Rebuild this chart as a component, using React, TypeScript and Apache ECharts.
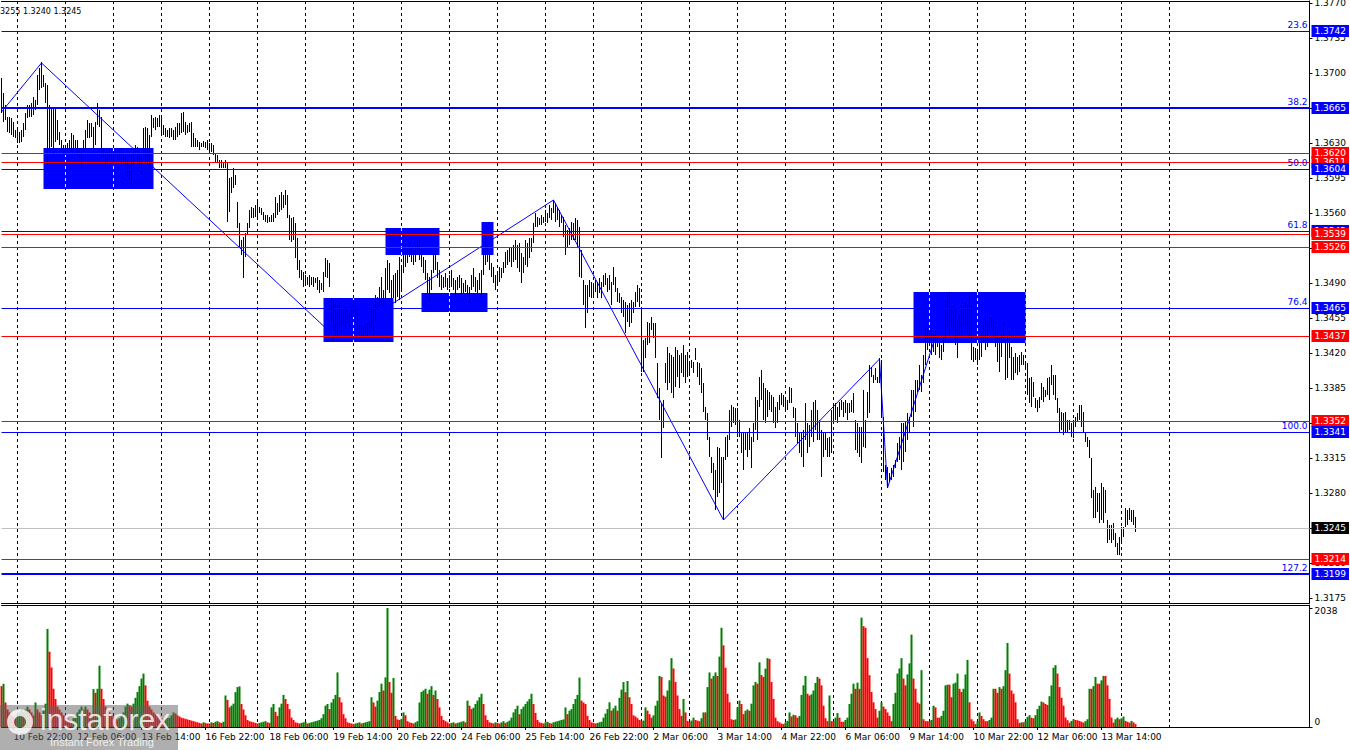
import React, { useEffect, useRef } from 'react';
import * as echarts from 'echarts';

// ---------- DATA ----------
const sessionDays = ['10 Feb', '11 Feb', '12 Feb', '13 Feb', '16 Feb', '17 Feb', '18 Feb', '19 Feb', '20 Feb',
  '23 Feb', '24 Feb', '25 Feb', '26 Feb', '27 Feb', '2 Mar', '3 Mar', '4 Mar', '5 Mar', '6 Mar', '9 Mar',
  '10 Mar', '11 Mar', '12 Mar', '13 Mar', '16 Mar', '17 Mar'];
const FIRST_HOUR = 16;
const SLOT_COUNT = 655;

const timeLabels = ['10 Feb 22:00', '12 Feb 06:00', '13 Feb 14:00', '16 Feb 22:00', '18 Feb 06:00', '19 Feb 14:00',
  '20 Feb 22:00', '24 Feb 06:00', '25 Feb 14:00', '26 Feb 22:00', '2 Mar 06:00', '3 Mar 14:00', '4 Mar 22:00',
  '6 Mar 06:00', '9 Mar 14:00', '10 Mar 22:00', '12 Mar 06:00', '13 Mar 14:00'];

// H1 bar highs / lows in pips (price = 1 + pips / 10000)
const highPips = [
  3695,3680,3668,3656,3656,3655,3651,3643,3643,3641, 3643,3650,3660,3668,3668,3670,3676,3673,3698,3705,
  3711,3698,3690,3688,3668,3666,3665,3665,3653,3641, 3633,3628,3628,3630,3633,3640,3638,3633,3633,3625,
  3625,3633,3643,3653,3650,3650,3646,3651,3670,3663, 3656,3625,3621,3621,3623,3623,3621,3623,3621,3623,
  3625,3620,3618,3613,3608,3618,3625,3628,3626,3621, 3615,3645,3646,3645,3638,3658,3655,3656,3655,3658,
  3656,3648,3645,3643,3645,3645,3643,3646,3650,3650, 3660,3661,3651,3648,3650,3651,3640,3635,3633,3631,
  3630,3632,3631,3633,3630,3630,3628,3620,3618,3613, 3613,3611,3613,3611,3595,3596,3605,3598,3571,3550,
  3533,3536,3540,3550,3563,3566,3565,3568,3571,3566, 3565,3561,3558,3558,3556,3558,3560,3576,3570,3578,
  3581,3578,
  3583,3578,3558,3555,3556,3550,3535,3513,3503,3501, 3498,3496,3498,3496,3496,3495,3496,3493,3490,3501,
  3515,3513,3510,3475,3473,3470,3468,3470,3466,3465, 3466,3463,3460,3466,3473,3470,3465,3448,3448,3446,
  3448,3450,3451,3466,3466,3478,3476,3486,3496,3483, 3505,3513,3510,3493,3498,3500,3503,3516,3506,3538,
  3530,3526,3530,3525,3523,3528,3531,3533,3525,3516, 3513,3500,3496,3503,3520,3523,3511,3503,3498,3496,
  3500,3495,3498,3503,3495,3493,3496,3498,3495,3490, 3493,3488,3486,3498,3505,3496,3493,3500,3503,3525,
  3535,3528,3521,3510,3506,3498,3501,3506,3505,3511, 3521,3523,3525,3525,3528,3533,3528,3530,3520,3516,
  3533,3530,3535,3535,3550,3560,3556,3555,3558,3556, 3563,3560,3568,3565,3573,3570,3566,3563,3558,3556,
  3548,3543,3545,3551,3550,3555,3553,3546,
  3523,3493,3488,3488,3493,3491,3490,3493,3491,3495, 3491,3498,3500,3495,3498,3491,3506,3496,3485,3480,
  3476,3473,3471,3468,3470,3473,3471,3481,3488,3485, 3466,3433,3435,3451,3450,3456,3450,3450,3410,3385,
  3370,3373,3410,3426,3420,3418,3416,3426,3423,3418, 3420,3428,3418,3421,3411,3413,3411,3425,3411,3410,
  3405,3390,3366,3360,3336,3316,3310,3303,3326,3325, 3316,3316,3336,3338,3363,3368,3366,3365,3365,3353,
  3340,3340,3340,3340,3345,3336,3350,3376,3373,3396, 3403,3390,3385,3383,3381,3378,3376,3366,3371,3378,
  3380,3378,3375,3373,3386,3385,3366,3365,3350,3340, 3341,3343,3370,3350,3348,3363,3371,3373,3363,3353,
  3343,3340,3340,3335,3336,3363,3366,3370,3366,3371, 3373,3371,3373,3370,3370,3373,3380,3353,3350,3346,
  3346,3383,
  3353,3381,3408,3406,3398,3405,3396,3415,3413,3356, 3308,3306,3300,3305,3308,3313,3330,3336,3350,3350,
  3351,3360,3356,3383,3383,3393,3393,3408,3398,3418, 3445,3445,3443,3445,3440,3443,3435,3430,3428,3436,
  3473,3480,3481,3466,3468,3465,3453,3458,3468,3466, 3471,3468,3480,3468,3426,3425,3423,3430,3440,3450,
  3453,3451,3456,3456,3453,3446,3441,3435,3440,3450, 3433,3436,3443,3426,3416,3420,3416,3418,3421,3418,
  3411,3410,3395,3396,3391,3375,3373,3376,3390,3386, 3383,3395,3396,3408,3398,3398,3375,3365,3361,3360,
  3361,3353,3353,3350,3353,3356,3360,3368,3368,3361, 3341,3336,3333,3315,3283,3286,3280,3280,3290,3286,
  3283,3253,3248,3248,3250,3240,3230,3236,3246,3246, 3265,3263,3265,3263,3263,3256,
];
const lowPips = [
  3660,3651,3653,3641,3640,3638,3636,3635,3630,3630, 3631,3636,3643,3655,3656,3656,3658,3663,3668,3683,
  3685,3686,3670,3608,3625,3626,3618,3631,3633,3628, 3621,3618,3618,3621,3623,3621,3621,3625,3618,3615,
  3605,3621,3623,3635,3635,3636,3625,3628,3648,3646, 3615,3616,3605,3611,3615,3613,3611,3616,3613,3615,
  3611,3610,3606,3596,3593,3588,3608,3618,3610,3605, 3598,3618,3611,3608,3605,3636,3645,3643,3646,3646,
  3638,3638,3636,3636,3635,3636,3633,3633,3636,3638, 3640,3641,3638,3640,3641,3626,3626,3626,3626,3623,
  3626,3626,3625,3623,3621,3621,3618,3611,3610,3605, 3605,3605,3605,3551,3561,3580,3585,3588,3545,3525,
  3518,3495,3516,3538,3545,3555,3555,3556,3553,3560, 3558,3553,3551,3550,3551,3551,3551,3555,3558,3561,
  3563,3565,
  3568,3555,3533,3531,3533,3515,3503,3495,3493,3486, 3488,3488,3486,3488,3486,3490,3483,3480,3483,3481,
  3496,3495,3486,3451,3443,3436,3435,3446,3440,3448, 3445,3450,3446,3456,3456,3450,3443,3438,3436,3436,
  3438,3436,3440,3443,3436,3451,3463,3466,3468,3466, 3473,3483,3480,3473,3475,3470,3476,3473,3483,3500,
  3506,3510,3516,3511,3508,3511,3518,3513,3506,3500, 3493,3480,3471,3483,3500,3503,3495,3486,3483,3485,
  3486,3483,3485,3486,3483,3476,3483,3485,3478,3480, 3481,3476,3470,3483,3486,3481,3480,3483,3476,3498,
  3508,3511,3503,3496,3490,3483,3488,3491,3495,3500, 3505,3508,3511,3506,3511,3513,3505,3501,3490,3500,
  3508,3506,3515,3521,3530,3546,3546,3548,3548,3550, 3551,3550,3555,3553,3560,3551,3553,3546,3550,3536,
  3518,3526,3528,3533,3533,3533,3526,3496,
  3495,3468,3445,3460,3476,3475,3476,3481,3475,3480, 3475,3486,3488,3481,3483,3468,3488,3481,3471,3470,
  3460,3456,3440,3451,3446,3450,3460,3466,3471,3466, 3401,3401,3415,3428,3430,3443,3435,3415,3375,3353,
  3315,3345,3390,3383,3390,3380,3375,3386,3396,3385, 3400,3396,3390,3396,3398,3405,3400,3413,3396,3388,
  3380,3361,3353,3333,3316,3300,3283,3263,3276,3280, 3290,3253,3313,3316,3333,3346,3350,3348,3336,3336,
  3320,3303,3323,3316,3323,3305,3331,3343,3333,3366, 3373,3353,3350,3356,3363,3361,3350,3345,3350,3363,
  3368,3366,3363,3363,3370,3370,3355,3336,3330,3320, 3316,3306,3333,3320,3326,3336,3331,3343,3333,3333,
  3296,3316,3323,3316,3316,3320,3350,3353,3350,3356, 3363,3356,3360,3353,3360,3361,3360,3323,3320,3316,
  3310,3326,
  3325,3355,3360,3396,3390,3393,3390,3390,3356,3301, 3293,3285,3291,3293,3296,3305,3311,3313,3303,3311,
  3321,3333,3340,3356,3346,3361,3381,3383,3381,3390, 3408,3423,3428,3418,3421,3418,3426,3415,3413,3421,
  3433,3445,3438,3446,3443,3428,3415,3438,3438,3446, 3448,3440,3435,3413,3411,3413,3408,3413,3416,3430,
  3423,3426,3441,3445,3438,3426,3411,3401,3416,3430, 3393,3395,3415,3393,3393,3400,3398,3401,3408,3408,
  3403,3378,3370,3366,3376,3365,3361,3365,3373,3371, 3376,3378,3373,3388,3378,3373,3360,3340,3343,3338,
  3341,3340,3343,3336,3335,3346,3351,3353,3346,3340, 3331,3326,3315,3275,3255,3255,3261,3250,3253,3250,
  3260,3230,3233,3230,3233,3226,3218,3218,3231,3236, 3246,3248,3253,3251,3248,3241,
];
const volumes = [
  700,740,420,300,250,200,180,150,200,250,300,
  250,300,350,300,250,200,420,300,250,200,300,400,
  1680,1290,1020,655,480,350,300,250,
  200,180,150,120,100,150,200,250,300,350,300,350,300,250,200,
  650,586,655,1050,655,480,350,
  300,250,200,180,150,130,150,200,250,350,400,
  370,350,400,500,600,700,830,915,713,450,350,
  300,250,220,200,180,150,130,140,150,160,200,250,230,200,
  180,160,150,140,130,120,110,100,90,80,70,60,80,70,60,
  60,80,70,90,100,80,70,90,
  540,464,336,365,400,597,684,696,394,300,200,
  120,100,90,80,70,60,70,80,90,100,80,70,
  336,394,260,190,336,400,550,480,394,307,162,120,
  80,70,60,70,80,90,60,70,80,90,100,110,
  120,150,220,365,394,307,420,480,550,935,510,423,220,150,
  80,70,60,50,60,70,80,60,70,80,90,100,
  510,420,350,452,600,742,626,850,2038,771,586,840,190,130,120,140,
  250,200,100,80,70,60,80,100,
  420,600,626,655,570,640,700,550,626,480,336,190,
  120,100,80,60,70,80,60,70,80,90,100,80,
  452,365,307,330,394,452,510,570,394,200,120,
  80,70,60,80,70,60,80,100,70,90,110,
  160,250,307,365,220,307,350,394,440,480,570,394,240,120,
  80,70,60,80,90,70,60,80,90,100,110,120,130,
  336,220,280,307,394,480,550,847,452,420,394,190,120,
  80,70,60,70,80,90,
  160,230,307,423,280,320,365,280,500,640,770,597,788,510,394,200,180,150,120,100,110,
  336,280,220,160,200,365,450,875,858,540,520,626,800,1180,1003,771,540,307,190,480,250,104,90,110,160,120,110,100,150,250,250,
  684,935,830,875,935,875,1206,1700,1398,1015,570,423,133,120,130,336,452,394,220,278,
  300,278,400,713,771,742,1108,890,858,1000,1180,1166,771,480,160,100,80,60,50,
  80,104,250,180,210,200,160,190,550,713,875,570,540,560,626,754,858,830,713,365,
  150,100,540,100,100,160,238,160,90,90,120,160,394,570,742,655,760,655,1874,1728,
  1700,1180,887,600,423,307,160,278,423,350,307,250,190,100,
  394,586,916,1003,1180,830,713,900,1090,1583,830,655,423,400,974,133,100,100,100,120,
  365,336,160,160,190,278,713,725,725,510,742,760,916,655,600,655,900,1150,423,133,100,50,100,250,190,133,100,100,120,160,
  655,655,586,684,655,700,974,1440,916,626,570,423,133,70,80,80,
  100,174,203,160,150,203,307,365,435,420,394,377,528,713,1015,1060,916,684,500,365,162,116,75,104,133,120,116,104,90,75,100,133,
  655,655,700,858,742,742,800,875,875,713,480,162,75,133,160,133,150,180,104,90,75,104,80,50,
];

const priceTicks = [1.3175, 1.3210, 1.3245, 1.3280, 1.3315, 1.3350, 1.3385, 1.3420, 1.3455, 1.3490,
  1.3525, 1.3560, 1.3595, 1.3630, 1.3665, 1.3700, 1.3735, 1.3770];
const volumeTicks = [0, 2038];

// zigzag turning points: [bar, price]
const zigzag = [[0, 1.3661], [20, 1.3710], [168, 1.3434], [276, 1.3573], [361, 1.3253], [439, 1.3414], [443, 1.3285], [474, 1.3481]];
// zones: [fromBar, toBar, topPrice, bottomPrice]
const zones = [[21, 76, 1.3625, 1.3584], [161, 196, 1.3475, 1.3431], [192, 219, 1.3545, 1.3518],
  [210, 243, 1.3480, 1.3461], [240, 246, 1.3551, 1.3518], [456, 512, 1.3481, 1.3430]];
// levels: [price, kind, fib label]
const levels: [number, string, string][] = [
  [1.3742, 'blue', '23.6'], [1.3665, 'blueBold', '38.2'], [1.3620, 'red', ''], [1.3611, 'red', ''],
  [1.3604, 'blue', '50.0'], [1.3542, 'blue', '61.8'], [1.3539, 'red', ''], [1.3526, 'red', ''],
  [1.3465, 'blue', '76.4'], [1.3437, 'red', ''], [1.3352, 'red', ''], [1.3341, 'blue', '100.0'],
  [1.3245, 'current', ''], [1.3214, 'red', ''], [1.3199, 'blueBold', '127.2'],
];
const headerText = '3255 1.3240 1.3245';

// ---------- BUILD ----------
const FONT = 'DejaVu Sans';
const toPrice = (p: number) => +(1 + p / 10000).toFixed(4);

const categories: string[] = [];
sessionDays.forEach((d, k) => {
  for (let h = k === 0 ? FIRST_HOUR : 0; h < 24; h++) categories.push(`${d} ${String(h).padStart(2, '0')}:00`);
});
while (categories.length < SLOT_COUNT) categories.push(`~${categories.length}`);
categories.length = SLOT_COUNT;

const labelSet = new Set(timeLabels);
const isDayStart = (_i: number, v: string) => typeof v === 'string' && v.endsWith(' 00:00');
const isLabel = (_i: number, v: string) => labelSet.has(v);

const barData = highPips.map((h, i) => [i, toPrice(lowPips[i]), toPrice(h)]);
const volData = volumes.map((v, i) => ({
  value: v,
  itemStyle: { color: i > 0 && v > volumes[i - 1] ? '#008000' : '#ff0000' },
}));

const markLineData: any[] = [];
levels.forEach(([price, kind, fib]) => {
  const color = kind === 'red' ? '#ff0000' : kind === 'current' ? '#c0c0c0' : '#0000ff';
  const box = kind === 'current' ? '#000000' : color;
  if (fib) {
    markLineData.push({
      yAxis: price,
      lineStyle: { width: 0, color: 'rgba(0,0,0,0)' },
      label: { show: true, position: 'insideEndTop', distance: 2, formatter: fib, color: '#0000ff', fontSize: 9, fontFamily: FONT },
    });
  }
  markLineData.push({
    yAxis: price,
    lineStyle: { color, width: kind === 'blueBold' ? 2 : 1, type: 'solid' },
    label: {
      show: true, position: 'end', distance: 2, formatter: price.toFixed(4), color: '#fff',
      backgroundColor: box, padding: [2, 3, 1, 3], fontSize: 9, fontFamily: FONT,
    },
  });
});

const gridLineStyle = { color: '#000', width: 1, type: [3, 3] as any };

const option: any = {
  animation: false,
  textStyle: { fontFamily: FONT },
  grid: [
    { left: 1.5, top: 1, width: 1308, height: 602, outerBoundsMode: 'none' },
    { left: 1.5, top: 605, width: 1308, height: 122, outerBoundsMode: 'none' },
  ],
  xAxis: [
    {
      gridIndex: 0, type: 'category', data: categories, boundaryGap: false, position: 'bottom',
      axisLine: { show: true, lineStyle: { color: '#000' } }, axisTick: { show: false }, axisLabel: { show: false },
      splitLine: { show: true, interval: isDayStart, lineStyle: gridLineStyle },
    },
    {
      gridIndex: 0, type: 'category', data: categories, boundaryGap: false, position: 'top',
      axisLine: { show: true, lineStyle: { color: '#000' } }, axisTick: { show: false }, axisLabel: { show: false },
      splitLine: { show: false },
    },
    {
      gridIndex: 1, type: 'category', data: categories, boundaryGap: false, position: 'bottom',
      axisLine: { show: true, lineStyle: { color: '#000' } },
      axisTick: { show: true, interval: isLabel, length: 3, lineStyle: { color: '#000' } },
      axisLabel: {
        show: true, interval: isLabel, align: 'left', margin: 5, color: '#000', fontSize: 9, fontFamily: FONT,
      },
      splitLine: { show: true, interval: isDayStart, lineStyle: gridLineStyle },
    },
    {
      gridIndex: 1, type: 'category', data: categories, boundaryGap: false, position: 'top',
      axisLine: { show: true, lineStyle: { color: '#000' } }, axisTick: { show: false }, axisLabel: { show: false },
      splitLine: { show: false },
    },
  ],
  yAxis: [
    {
      gridIndex: 0, type: 'value', position: 'right', min: 1.3170, max: 1.3772, scale: true,
      axisLine: { show: true, lineStyle: { color: '#000' } },
      axisTick: { show: true, customValues: priceTicks, length: 3, lineStyle: { color: '#000' } },
      axisLabel: {
        show: true, customValues: priceTicks, formatter: (v: number) => v.toFixed(4),
        color: '#000', fontSize: 9, fontFamily: FONT, margin: 5,
      },
      splitLine: { show: false },
    },
    {
      gridIndex: 1, type: 'value', position: 'right', min: 0, max: 2090,
      axisLine: { show: true, lineStyle: { color: '#000' } },
      axisTick: { show: true, customValues: volumeTicks, length: 3, lineStyle: { color: '#000' } },
      axisLabel: {
        show: true, customValues: volumeTicks, margin: 5,
        formatter: (v: number) => (v === 0 ? '{z|0}' : `{t|${v}}`),
        rich: {
          z: { padding: [0, 0, 10, 0], color: '#000', fontSize: 9, fontFamily: FONT },
          t: { padding: [6, 0, 0, 0], color: '#000', fontSize: 9, fontFamily: FONT },
        },
      },
      splitLine: { show: false },
    },
  ],
  series: [
    {
      name: 'zigzag', type: 'line', xAxisIndex: 0, yAxisIndex: 0, data: zigzag, z: 1,
      showSymbol: false, symbol: 'none', lineStyle: { color: '#0000ff', width: 1 }, silent: true,
      markLine: { silent: true, precision: 4, symbol: ['none', 'none'], data: markLineData, animation: false, z: 5 },
    },
    {
      name: 'zones', type: 'custom', xAxisIndex: 0, yAxisIndex: 0, data: zones, z: 2, silent: true,
      encode: { x: [0, 1], y: [2, 3] },
      renderItem: (_p: any, api: any) => {
        const i0 = api.value(0);
        const i1 = api.value(1);
        const a = api.coord([i0, api.value(2)]);
        const b = api.coord([i1, api.value(3)]);
        const children: any[] = [{
          type: 'rect', shape: { x: a[0], y: a[1], width: b[0] - a[0], height: b[1] - a[1] },
          style: { fill: '#0000ff' },
        }];
        for (let k = i0 + 1; k < i1; k++) {
          if (isDayStart(k, categories[k])) {
            const x = api.coord([k, api.value(2)])[0];
            children.push({
              type: 'line', shape: { x1: x, y1: a[1], x2: x, y2: b[1] },
              style: { stroke: '#ffff00', lineWidth: 1, lineDash: [3, 3] },
            });
          }
        }
        return { type: 'group', children };
      },
    },
    {
      name: 'bars', type: 'custom', xAxisIndex: 0, yAxisIndex: 0, data: barData, z: 3, silent: true,
      encode: { x: 0, y: [1, 2] },
      renderItem: (_p: any, api: any) => {
        const i = api.value(0);
        const lo = api.coord([i, api.value(1)]);
        const hi = api.coord([i, api.value(2)]);
        return {
          type: 'line', shape: { x1: lo[0], y1: lo[1], x2: hi[0], y2: hi[1] },
          style: { stroke: '#000', lineWidth: 1 },
        };
      },
    },
    {
      name: 'volume', type: 'bar', xAxisIndex: 2, yAxisIndex: 1, data: volData, barWidth: 2, silent: true,
    },
  ],
  graphic: [
    {
      type: 'text', x: 0, y: 7, z: 50, silent: true,
      style: { text: headerText, fill: '#000', fontSize: 8, fontFamily: FONT },
    },
    { type: 'rect', z: 100, silent: true, shape: { x: 0, y: 705, width: 178, height: 45 }, style: { fill: 'rgba(96,96,96,0.5)' } },
    { type: 'ring', z: 101, silent: true, shape: { cx: 20, cy: 722, r: 13, r0: 6 }, style: { fill: 'rgba(255,255,255,0.8)' } },
    {
      type: 'text', z: 101, silent: true, x: 40, y: 704,
      style: { text: 'instaforex', fill: 'rgba(255,255,255,0.82)', fontSize: 30, fontFamily: 'Liberation Sans' },
    },
    {
      type: 'text', z: 101, silent: true, x: 50, y: 736,
      style: { text: 'Instant Forex Trading', fill: 'rgba(255,255,255,0.82)', fontSize: 11, fontFamily: 'Liberation Sans' },
    },
  ],
};

export default function App() {
  const ref = useRef<HTMLDivElement>(null);
  useEffect(() => {
    if (!ref.current) return;
    const chart = echarts.init(ref.current, null, { renderer: 'svg' });
    chart.setOption(option);
    return () => chart.dispose();
  }, []);
  return (
    <div
      ref={ref}
      style={{ position: 'fixed', left: 0, top: 0, width: 1350, height: 750, background: '#ffffff' }}
    />
  );
}
